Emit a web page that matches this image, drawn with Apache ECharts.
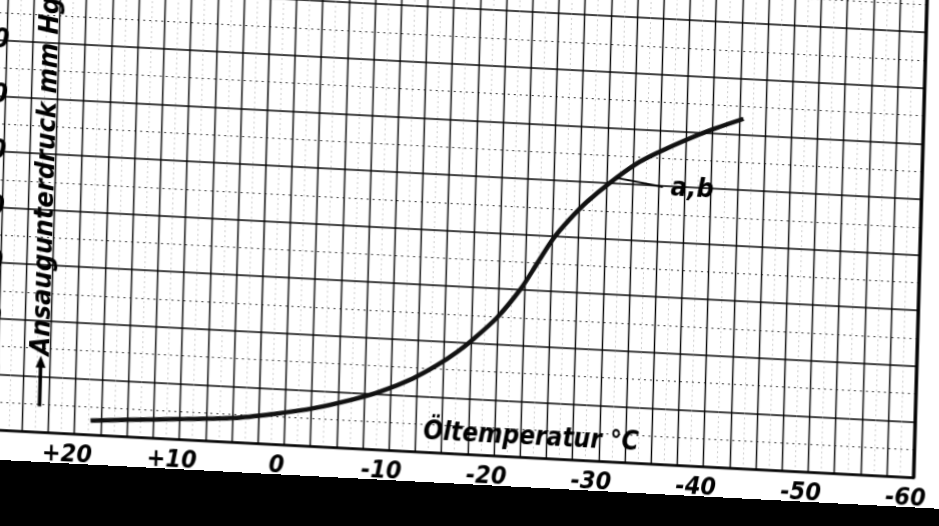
<!DOCTYPE html>
<html><head><meta charset="utf-8">
<script src="https://cdn.jsdelivr.net/npm/echarts@6/dist/echarts.min.js"></script>
<style>
html,body{margin:0;padding:0;width:939px;height:526px;overflow:hidden;background:#000;}
#paper{position:absolute;left:-60px;top:-60px;width:1059px;height:646px;
 background:linear-gradient(to bottom,#fff 0,#fff 544px,#000 544px);
 transform-origin:529.5px 323px;transform:matrix(1,0.052,-0.028,1,0,0);}
#chart{position:absolute;left:0;top:0;width:1059px;height:646px;}
</style></head><body>
<div id="paper"><div id="chart"></div></div>
<script>
// Öltemperatur (°C) and Ansaugunterdruck (mm Hg), curve a,b
const temperatures = [18.5, 15.0, 10.3, 4.9, 1.1, -2.7, -6.5, -9.0, -12.1, -14.3, -16.2, -17.8, -19.9, -22.1, -23.6, -25.1, -26.6, -28.2, -30.3, -32.8, -35.0, -37.5, -40.1, -42.9];
const pressures    = [2.5, 3.0, 3.6, 4.3, 5.4, 6.8, 8.8, 10.4, 13.1, 15.6, 18.2, 20.8, 24.7, 30.1, 34.8, 39.5, 43.1, 46.4, 50.0, 53.7, 56.1, 58.5, 60.7, 62.8];
const xTickValues  = [20, 10, 0, -10, -20, -30, -40, -50, -60];
const xTickLabels  = ['+20', '+10', '0', '-10', '-20', '-30', '-40', '-50', '-60'];
const yTickValues  = [0, 10, 20, 30, 40, 50, 60, 70, 80, 90];
const yTickLabels  = ['0', '10', '20', '30', '40', '50', '60', '70', '80', '90'];
const curveName    = 'a,b';
const leaderFrom   = [-31.0, 51.0];
const leaderTo     = [-35.4, 49.8];
const xTitle = 'Öltemperatur °C';
const yTitle = 'Ansaugunterdruck mm Hg';

const FONT = "'Liberation Sans Narrow','DejaVu Sans Condensed','DejaVu Sans',sans-serif";
const FONT2 = "'DejaVu Sans Condensed','DejaVu Sans',sans-serif";
const lbl = {fontFamily: FONT, fontWeight: 'bold', fontStyle: 'italic', color: '#000'};

const chart = echarts.init(document.getElementById('chart'), null, {renderer: 'canvas'});
const data = temperatures.map((t, i) => [t, pressures[i]]);

chart.setOption({
  animation: false,
  grid: {left: 34.9, right: 80.7, top: 1, bottom: 132},
  xAxis: {
    type: 'value', min: -60, max: 30, interval: 2.5, inverse: true,
    axisLine: {show: true, onZero: false, lineStyle: {color: '#000', width: 2.5}},
    axisTick: {show: false},
    axisLabel: Object.assign({}, lbl, {
      fontSize: 25, margin: 9, padding: [0, 14, 0, 0], showMinLabel: true, showMaxLabel: true, hideOverlap: false,
      formatter: v => { const i = xTickValues.indexOf(v); return i >= 0 ? xTickLabels[i] : ''; }
    }),
    splitLine: {show: true, lineStyle: {color: '#000', width: 1.4}},
    minorTick: {show: false, splitNumber: 2},
    minorSplitLine: {show: true, lineStyle: {color: '#9a9a9a', width: 1, type: [1, 4]}}
  },
  yAxis: [{
    type: 'value', min: 0, max: 90, interval: 10, offset: -37,
    axisLine: {show: false}, axisTick: {show: false},
    axisLabel: Object.assign({}, lbl, {
      fontSize: 27, margin: 8, showMinLabel: true, showMaxLabel: true,
      formatter: v => { const i = yTickValues.indexOf(v); return i >= 0 ? yTickLabels[i] : ''; }
    }),
    splitLine: {show: true, lineStyle: {color: '#000', width: 1.6}},
    minorTick: {show: false, splitNumber: 2},
    minorSplitLine: {show: true, lineStyle: {color: '#333', width: 1.2, type: [2, 4]}}
  }, {
    type: 'value', position: 'right', min: 0, max: 90,
    axisLine: {show: true, lineStyle: {color: '#000', width: 3.5}},
    axisTick: {show: false}, axisLabel: {show: false}, splitLine: {show: false}
  }],
  series: [{
    name: curveName, type: 'line', data: data, smooth: 0.3, symbol: 'none',
    lineStyle: {color: '#111', width: 4.5},
    markLine: {
      silent: true, symbol: ['none', 'none'], animation: false,
      lineStyle: {color: '#000', width: 2, type: 'solid'},
      label: {show: true, position: 'end', distance: 8, fontSize: 27, formatter: curveName,
        fontFamily: FONT2, fontWeight: 'bold', fontStyle: 'italic', color: '#000'},
      data: [[{coord: leaderFrom}, {coord: leaderTo}]]
    }
  }]
});

// annotation positions anchored in data space
const pName = chart.convertToPixel({gridIndex: 0}, [23.3, 46.0]);
const pX = chart.convertToPixel({gridIndex: 0}, [-23.5, 3.6]);
const pA1 = chart.convertToPixel({gridIndex: 0}, [23.4, 13.7]);
const pA2 = chart.convertToPixel({gridIndex: 0}, [23.4, 4.6]);
chart.setOption({
  graphic: [
    {type: 'text', x: pName[0], y: pName[1], rotation: Math.PI / 2, z: 10,
     style: {text: yTitle, fontSize: 27, align: 'center', verticalAlign: 'middle', fill: '#000',
       fontFamily: FONT2, fontWeight: 'bold', fontStyle: 'italic'}},
    {type: 'text', x: pX[0], y: pX[1], z: 10,
     style: {text: xTitle, fontSize: 26, align: 'center', verticalAlign: 'middle', fill: '#000',
       fontFamily: FONT2, fontWeight: 'bold', fontStyle: 'italic'}},
    {type: 'line', z: 10, shape: {x1: pA1[0], y1: pA1[1] + 8, x2: pA2[0], y2: pA2[1]}, style: {stroke: '#000', lineWidth: 3.5}},
    {type: 'polygon', z: 10, shape: {points: [[pA1[0], pA1[1]], [pA1[0] - 5, pA1[1] + 12], [pA1[0] + 5, pA1[1] + 12]]}, style: {fill: '#000'}}
  ]
});
</script>
</body></html>
